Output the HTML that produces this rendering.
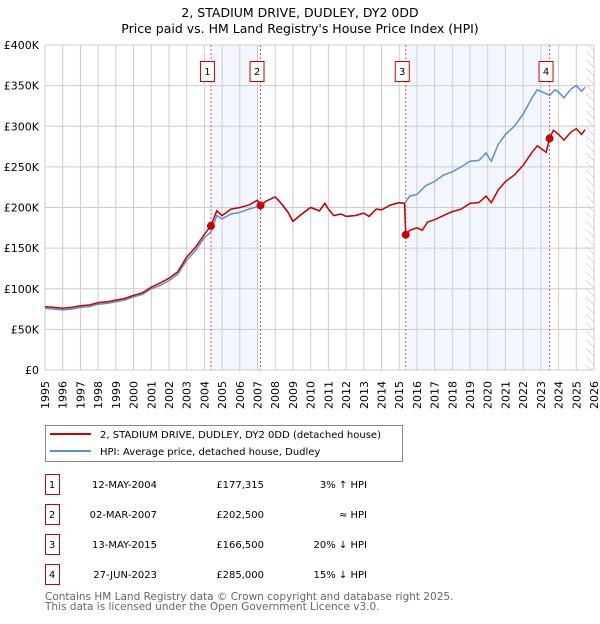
<!DOCTYPE html>
<html><head><meta charset="utf-8"><style>
body{margin:0;background:#fff;font-family:"DejaVu Sans","Liberation Sans",sans-serif;}
svg text{font-family:"DejaVu Sans","Liberation Sans",sans-serif;}
</style></head><body>
<svg id="chart" width="600" height="620" xmlns="http://www.w3.org/2000/svg">
<text x="300" y="17" text-anchor="middle" font-size="12.5">2, STADIUM DRIVE, DUDLEY, DY2 0DD</text>
<text x="300" y="33" text-anchor="middle" font-size="12.5">Price paid vs. HM Land Registry's House Price Index (HPI)</text>
<g id="plot"></g>
<g>
<rect x="45.5" y="425.5" width="357" height="36" fill="#fff" stroke="#888"/>
<line x1="50" y1="434" x2="91" y2="434" stroke="#cc0000" stroke-width="2"/>
<text x="100" y="438" font-size="10">2, STADIUM DRIVE, DUDLEY, DY2 0DD (detached house)</text>
<line x1="50" y1="451" x2="91" y2="451" stroke="#5b8fd4" stroke-width="2"/>
<text x="100" y="455" font-size="10">HPI: Average price, detached house, Dudley</text>
</g>
<g id="table" font-size="10"></g>
<text x="45" y="600" font-size="10.5" fill="#666">Contains HM Land Registry data © Crown copyright and database right 2025.</text>
<text x="45" y="610" font-size="10.5" fill="#666">This data is licensed under the Open Government Licence v3.0.</text>
</svg>
<script>
const yTicks=[0,50,100,150,200,250,300,350,400];
const yTickLabels=["£0","£50K","£100K","£150K","£200K","£250K","£300K","£350K","£400K"];
const years=[1995,1996,1997,1998,1999,2000,2001,2002,2003,2004,2005,2006,2007,2008,2009,2010,2011,2012,2013,2014,2015,2016,2017,2018,2019,2020,2021,2022,2023,2024,2025,2026];
const hpiT=[1995,1995.5,1996,1996.5,1997,1997.5,1998,1998.5,1999,1999.5,2000,2000.5,2001,2001.5,2002,2002.5,2003,2003.5,2004,2004.37,2004.7,2005,2005.5,2006,2006.5,2007,2007.5,2008,2008.3,2008.7,2009,2009.5,2010,2010.5,2010.8,2011,2011.3,2011.7,2012,2012.5,2013,2013.3,2013.7,2014,2014.5,2015,2015.3,2015.6,2016,2016.5,2017,2017.5,2018,2018.5,2019,2019.5,2019.9,2020.2,2020.6,2021,2021.5,2022,2022.5,2022.8,2023,2023.5,2023.8,2024,2024.3,2024.7,2025,2025.3,2025.5];
const hpiV=[76,75,74,75,77,78,81,82,84,86,90,93,100,104,110,118,135,147,163,170,190,186,192,194,198,201,208,213,206,195,183,192,200,196,205,198,190,192,189,190,193,189,198,197,203,206,205,214,216,227,232,240,244,250,257,258,267,257,278,290,300,315,335,345,343,338,345,342,335,346,350,343,348];
const redT=[1995,1995.5,1996,1996.5,1997,1997.5,1998,1998.5,1999,1999.5,2000,2000.5,2001,2001.5,2002,2002.5,2003,2003.5,2004,2004.37,2004.7,2005,2005.5,2006,2006.5,2007,2007.17,2007.5,2008,2008.3,2008.7,2009,2009.5,2010,2010.5,2010.8,2011,2011.3,2011.7,2012,2012.5,2013,2013.3,2013.7,2014,2014.5,2015,2015.3,2015.37,2015.6,2016,2016.3,2016.6,2017,2017.5,2018,2018.5,2019,2019.5,2019.9,2020.2,2020.6,2021,2021.5,2022,2022.5,2022.8,2023.3,2023.49,2023.7,2024,2024.3,2024.7,2025,2025.3,2025.5];
const redV=[78,77,76,77,79,80,83,84,86,88,92,95,102,107,113,121,139,151,167,177.3,196,190,198,200,203,209,202.5,208,213,206,195,183,192,200,196,205,198,190,192,189,190,193,189,198,197,203,206,205,166.5,172,175,172,182,185,190,195,198,205,206,214,206,222,232,240,252,268,276,268,285,295,290,283,293,297,290,296];
const saleT=[2004.37,2007.17,2015.37,2023.49];
const saleV=[177.315,202.5,166.5,285];
const saleLabels=["1","2","3","4"];
const saleDates=["12-MAY-2004","02-MAR-2007","13-MAY-2015","27-JUN-2023"];
const salePrices=["£177,315","£202,500","£166,500","£285,000"];
const saleRel=["3% ↑ HPI","≈ HPI","20% ↓ HPI","15% ↓ HPI"];

const NS="http://www.w3.org/2000/svg";
const L=45,R=594,T=45,B=370;
const x=t=>L+(t-1995)*(R-L)/31;
const y=v=>B-v*(B-T)/400;
function mk(tag,attrs,parent){const e=document.createElementNS(NS,tag);for(const k in attrs)e.setAttribute(k,attrs[k]);parent.appendChild(e);return e;}
const g=document.getElementById('plot');
const bg=mk('rect',{x:L,y:T,width:R-L,height:B-T,fill:'#fff'},g);


[[0,1],[2,3]].forEach((p,i)=>{const r=mk('rect',{x:x(saleT[p[0]]),y:T,width:x(saleT[p[1]])-x(saleT[p[0]]),height:B-T,fill:'#eef3fc',opacity:0.7},g);

});
years.forEach(yr=>{const l=mk('line',{x1:x(yr),x2:x(yr),y1:T,y2:B,stroke:'#ccc','stroke-width':1},g);


const t=mk('text',{x:0,y:0,'font-size':11,'text-anchor':'end',transform:`translate(${x(yr)+4},${B+11}) rotate(-90)`},g);t.textContent=yr;

});
yTicks.forEach((v,i)=>{const l=mk('line',{x1:L,x2:R,y1:y(v),y2:y(v),stroke:'#ccc','stroke-width':1},g);


const t=mk('text',{x:L-6,y:y(v)+4,'font-size':11,'text-anchor':'end'},g);t.textContent=yTickLabels[i];

});
const defs=mk('defs',{},g);const pat=mk('pattern',{id:'hatch',width:6,height:6,patternUnits:'userSpaceOnUse',patternTransform:'rotate(-45)'},defs);
mk('line',{x1:0,y1:0,x2:0,y2:6,stroke:'#bbb','stroke-width':1},pat);
const h=mk('rect',{x:x(2025.55),y:T,width:R-x(2025.55),height:B-T,fill:'url(#hatch)'},g);


saleT.forEach((t,i)=>{const l=mk('line',{x1:x(t),x2:x(t),y1:T,y2:B,stroke:'#ee5555','stroke-width':1,'stroke-dasharray':'2,2'},g);


const bx=mk('rect',{x:x(t)-10.5,y:61.5,width:14,height:20,fill:'#fff',stroke:'#cc0000'},g);


const tx=mk('text',{x:x(t)-3.5,y:75,'font-size':10,'text-anchor':'middle'},g);tx.textContent=saleLabels[i];

});
const path=(T2,V)=>T2.map((t,i)=>(i?'L':'M')+x(t).toFixed(1)+','+y(V[i]).toFixed(1)).join('');
const hp=mk('path',{d:path(hpiT,hpiV),fill:'none',stroke:'#5b8fd4','stroke-width':1.5},g);


const rp=mk('path',{d:path(redT,redV),fill:'none',stroke:'#cc0000','stroke-width':1.5},g);


saleT.forEach((t,i)=>{const c=mk('circle',{cx:x(t),cy:y(saleV[i]),r:4,fill:'#cc0000'},g);

});
const tb=document.getElementById('table');
saleLabels.forEach((s,i)=>{const yy=487+i*30;
const b=mk('rect',{x:45.5,y:yy-12.5,width:14,height:20,fill:'#fff',stroke:'#cc0000'},tb);


const c=[[52,'middle',s],[157,'end',saleDates[i]],[264,'end',salePrices[i]],[367,'end',saleRel[i]]];
c.forEach(cc=>{const t=mk('text',{x:cc[0],y:yy+1,'text-anchor':cc[1]},tb);t.textContent=cc[2];

});});
</script>
</body></html>
